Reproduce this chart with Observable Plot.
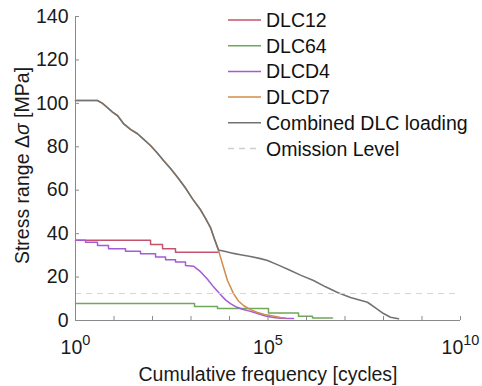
<!DOCTYPE html>
<html><head><meta charset="utf-8">
<script src="https://cdn.jsdelivr.net/npm/d3@7"></script>
<script src="https://cdn.jsdelivr.net/npm/@observablehq/plot@0.6"></script>
<style>
html,body{margin:0;padding:0;background:#fff;}
#wrap{position:relative;width:482px;height:386px;overflow:hidden;}
#legend{position:absolute;left:0;top:0;pointer-events:none;}
</style></head><body><div id="wrap"></div>
<script>
// ---- data ----
const seriesNames = ["DLC12", "DLC64", "DLCD4", "DLCD7", "Combined DLC loading"];
const seriesColors = ["#c4526c", "#6fa85a", "#a55ad6", "#d08c4a", "#727272"];
const omissionLabel = "Omission Level";
const omissionLevel = 12.4;

const dlc12Cycles = [1, 89, 182, 396, 5180];
const dlc12Stress = [37, 35, 33, 31.4, 31.4];

const dlc64Cycles = [1, 1233, 4880, 1.03e5, 6.2e5, 1.43e6, 4.73e6];
const dlc64Stress = [7.8, 6.5, 5.5, 3.4, 2.0, 1.2, 1.2];

const dlcd4Cycles = [1, 1.82, 1.82, 3.73, 3.73, 7.2, 7.2, 19.9, 19.9, 48.8, 48.8, 120, 120, 218, 218, 396, 396, 720, 720, 1161, 1766, 2683, 3842, 5500, 7870, 10600, 15200, 21800, 35100, 53400, 86100, 1.39e5, 2.11e5, 4.59e5];
const dlcd4Stress = [37, 37, 36, 36, 34.5, 34.5, 33, 33, 31.9, 31.9, 30.7, 30.7, 29.2, 29.2, 28, 28, 26.9, 26.9, 25.3, 25, 22.5, 19, 15.5, 12.4, 9.5, 7.8, 6.2, 5.2, 4.2, 3.2, 2.1, 1.4, 1.0, 0.9];

const dlcd7Cycles = [1, 3.73, 5.03, 6.78, 9.14, 12.3, 17.6, 26.8, 40.8, 58.4, 88.7, 135, 193, 294, 446, 720, 1094, 1766, 2383, 3210, 4077, 5180, 6580, 8870, 12700, 17100, 23100, 35100, 53400, 81100, 1.16e5, 2.11e5, 2.85e5];
const dlcd7Stress = [101.3, 101.3, 100, 98, 96, 94.4, 90.7, 88, 86, 83.5, 80.6, 77, 73.7, 70, 66, 61, 56, 51, 47, 42.8, 37.3, 32.3, 26, 18.4, 12.4, 9, 6.9, 5, 3.7, 2.8, 2.3, 1.4, 1.2];

const combinedCycles = [1, 3.73, 5.03, 6.78, 9.14, 12.3, 17.6, 26.8, 40.8, 58.4, 88.7, 135, 193, 294, 446, 720, 1094, 1766, 2383, 3210, 4077, 5180, 7870, 12700, 19300, 35100, 63800, 97000, 1.87e5, 3.84e5, 6.98e5, 1.52e6, 3.12e6, 6.39e6, 1.39e7, 3.84e7, 6.19e7, 9.98e7, 1.52e8, 2.45e8];
const combinedStress = [101.3, 101.3, 100, 98, 96, 94.4, 90.7, 88, 86, 83.5, 80.6, 77, 73.7, 70, 66, 61, 56, 51, 47, 42.8, 37.5, 32.5, 31.8, 30.9, 30.3, 29.5, 28.5, 27.6, 25.5, 23, 20.9, 18.4, 15.5, 12.9, 10.6, 8.4, 5.8, 3.2, 1.5, 0.8];

const xTicks = [1, 1e1, 1e2, 1e3, 1e4, 1e5, 1e6, 1e7, 1e8, 1e9, 1e10];
const xLabelTicks = [1, 1e5, 1e10];
const yTicks = [0, 20, 40, 60, 80, 100, 120, 140];
const xTitle = "Cumulative frequency [cycles]";
const yTitle = "Stress range Δσ [MPa]";

// ---- build ----
const rows = (c, s) => c.map((x, i) => ({cycles: x, stress: s[i]}));
const axisColor = "#8a8a8a";
const textColor = "#1a1a1a";
const fontFamily = "'Liberation Sans', Arial, Helvetica, sans-serif";

const svg = Plot.plot({
  width: 482, height: 386,
  marginLeft: 75, marginRight: 22, marginTop: 16, marginBottom: 66,
  style: {fontFamily, fontSize: "19.5px", color: textColor, background: "#fff", overflow: "visible"},
  x: {type: "log", domain: [1, 1e10]},
  y: {domain: [0, 140]},
  marks: [
    Plot.line(rows(dlc12Cycles, dlc12Stress), {x: "cycles", y: "stress", stroke: seriesColors[0], strokeWidth: 1.5, curve: "step-after"}),
    Plot.line(rows(dlc64Cycles, dlc64Stress), {x: "cycles", y: "stress", stroke: seriesColors[1], strokeWidth: 1.5, curve: "step-after"}),
    Plot.line(rows(dlcd4Cycles, dlcd4Stress), {x: "cycles", y: "stress", stroke: seriesColors[2], strokeWidth: 1.5}),
    Plot.line(rows(dlcd7Cycles, dlcd7Stress), {x: "cycles", y: "stress", stroke: seriesColors[3], strokeWidth: 1.5}),
    Plot.line(rows(combinedCycles, combinedStress), {x: "cycles", y: "stress", stroke: seriesColors[4], strokeWidth: 1.6}),
    Plot.ruleY([omissionLevel], {stroke: "#d4d4d4", strokeDasharray: "6,5", strokeWidth: 1}),
    Plot.ruleX([1], {stroke: axisColor}),
    Plot.ruleY([0], {stroke: axisColor}),
    Plot.ruleX(xTicks, {x: d => d, stroke: axisColor, insetTop: 300}),
    Plot.ruleY(yTicks, {y: d => d, stroke: axisColor, insetRight: 381}),
    Plot.axisX({ticks: xLabelTicks, tickSize: 0, tickPadding: 20, label: null, fill: textColor,
      tickFormat: d => String(Math.round(Math.log10(d)))}),
    Plot.axisY({ticks: yTicks, tickSize: 0, tickPadding: 7, label: null, fill: textColor}),
    Plot.text([xTitle], {text: d => d, frameAnchor: "bottom", textAnchor: "middle", dy: 54, lineAnchor: "middle", fill: textColor}),
    Plot.text([yTitle], {text: d => d, frameAnchor: "left", textAnchor: "middle", rotate: -90, dx: -53, dy: -3, lineAnchor: "middle", fill: textColor})
  ]
});

const NS = "http://www.w3.org/2000/svg";
// superscript exponents on x tick labels
svg.querySelectorAll('g[aria-label="x-axis tick label"] text').forEach(t => {
  const e = t.textContent;
  t.textContent = "10";
  const ts = document.createElementNS(NS, "tspan");
  ts.setAttribute("dy", "-9");
  ts.setAttribute("font-size", "14.5px");
  ts.textContent = e;
  t.appendChild(ts);
});
// italic sigma in y title
svg.querySelectorAll("text").forEach(t => {
  if (t.textContent === yTitle) {
    const [a, b] = yTitle.split("σ");
    t.textContent = a;
    const s = document.createElementNS(NS, "tspan");
    s.setAttribute("font-style", "italic");
    s.textContent = "σ";
    t.appendChild(s);
    t.appendChild(document.createTextNode(b));
  }
});

const wrap = document.getElementById("wrap");
wrap.appendChild(svg);

// ---- legend overlay ----
const legendItems = seriesNames.map((n, i) => ({name: n, color: seriesColors[i], dash: null}))
  .concat([{name: omissionLabel, color: "#cfcfcf", dash: "6,5"}]);
const lg = d3.select(wrap).append("svg").attr("id", "legend").attr("width", 482).attr("height", 386)
  .style("font-family", fontFamily).style("font-size", "19.5px");
const row = lg.selectAll("g").data(legendItems).join("g")
  .attr("transform", (d, i) => `translate(0,${20 + i * 25.7})`);
row.append("line").attr("x1", 228).attr("x2", 261).attr("y1", 0).attr("y2", 0)
  .attr("stroke", d => d.color).attr("stroke-width", 1.5).attr("stroke-dasharray", d => d.dash);
row.append("text").attr("x", 266).attr("y", 0).attr("dominant-baseline", "central")
  .attr("fill", "#111").text(d => d.name);
</script></body></html>
